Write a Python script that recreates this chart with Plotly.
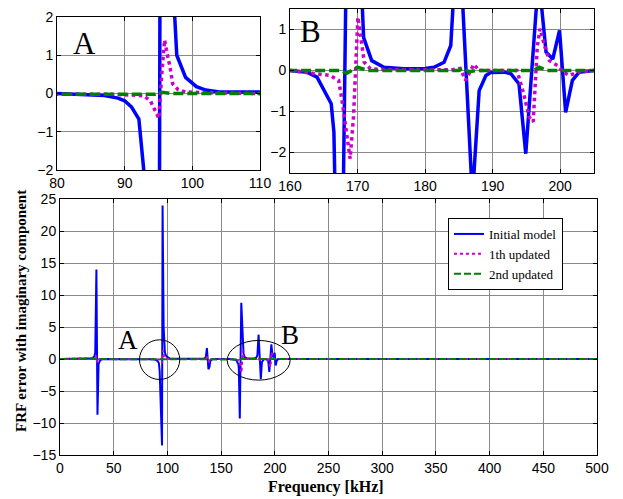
"""FRF error (imaginary component) — main plot with two zoomed insets."""
import plotly.graph_objects as go

# ---- data ----
freq_initial = [0, 20, 28, 30, 32, 32.8, 33.9, 34.9, 35.9, 37.5, 40,
                80, 85, 87, 89, 90, 91, 92.1, 92.8, 95.0, 95.5, 96.5, 97.7, 99, 100.6, 102, 104, 110,
                130, 134, 135.8, 136.8, 138.2, 139.2, 140, 142,
                160, 162.5, 164, 166.1, 166.5, 167.4, 168.8, 170.9, 172.1, 173.9, 176.8, 180, 181.3,
                182.8, 183.8, 184.9, 187, 188, 189, 189.7, 191.7, 192.7, 193.9, 194.9, 196.8, 197.9,
                198.9, 199.9, 200.8, 201.8, 202.8, 205, 220, 500]
err_initial = [0, 0, 0.02, 0.1, 0.4, 1.0, 14.0, -8.7, -0.8, -0.15, 0,
               0, -0.02, -0.05, -0.12, -0.19, -0.35, -0.67, -1.96, -13.5, 24.0, 5.0, 1.0, 0.42, 0.18, 0.09, 0.04, 0.02,
               0, 0.05, 0.3, 1.7, -1.6, -1.2, -0.3, 0,
               0, -0.04, -0.16, -0.81, -1.5, -9.3, 8.8, 0.8, 0.24, 0.08, 0.04, 0.05, 0.08,
               0.2, 0.61, 3.8, -3.1, -0.49, -0.12, -0.05, -0.04, -0.08, -0.33, -2.03, 2.3, 0.45,
               0.28, 0.98, -1.02, -0.24, -0.04, 0, 0, 0]

freq_1th = [0, 30, 33.0, 33.9, 34.5, 35.5, 37,
            80, 88, 91, 92.8, 93.8, 94.4, 95.05, 95.5, 95.9, 96.3, 96.7, 97.1, 97.9, 99, 102, 110,
            134, 136.5, 138.0, 140,
            160, 165.9, 167.2, 167.7, 168.4, 168.9, 169.4, 170.05, 170.4, 171.0, 171.9, 175,
            184, 185.2, 186, 187.2, 188,
            193.6, 194.6, 195.4, 196.0, 196.6, 197.0, 197.6, 198.4, 199.6, 200.4, 201.4, 202.6, 205, 500]
err_1th = [0, 0, 0.1, 0.5, -0.6, -0.1, 0,
           0, -0.02, -0.04, -0.06, -0.19, -0.39, -0.65, 0.54, 1.4, 1.02, 0.7, 0.25, 0.1, 0.04, 0.02, 0,
           0, 0.5, -0.5, 0,
           0, -0.12, -0.24, -0.73, -1.55, -2.15, -1.14, 1.3, 0.89, 0.2, 0.04, 0.02,
           0.02, 0.05, -0.24, 0.15, 0,
           0, -0.57, -1.14, -1.25, 0.57, 1.02, 0.65, 0.24, 0.12, -0.04, -0.12, -0.04, 0, 0]

freq_2nd = [0, 94.5, 95.5, 97, 167.5, 168.4, 170, 171.5, 185, 185.6, 186.5, 187.5, 196, 196.9, 198, 500]
err_2nd = [0, -0.02, 0.03, 0, 0, -0.07, 0.08, 0, 0, 0.05, -0.03, 0, 0, 0.08, 0, 0]

series_names = ["Initial model", "1th updated", "2nd updated"]

COLORS = {"blue": "#0000ff", "magenta": "#cc00cc", "green": "#008000", "grid": "#8a8a8a", "text": "#000000"}
SANS = "Liberation Sans, Arial, sans-serif"
SERIF = "Liberation Serif, Times New Roman, serif"
W, H = 623, 499
OX, OY = 8, 8            # page body margin the figure sits inside
FW, FH = W - OX, H - OY


def _axis(domain, rng, dtick, **kw):
    return dict(domain=domain, range=rng, dtick=dtick, showgrid=True, gridcolor=COLORS["grid"], gridwidth=1,
                zeroline=False, showline=True, linecolor="black", linewidth=1, mirror="ticks",
                ticks="inside", ticklen=4, tickcolor="black", automargin=False,
                ticklabeloverflow="allow",
                tickfont=dict(family=SANS, size=14, color="black"), **kw)


def _px(x0, x1):
    return [(x0 - OX) / FW, (x1 - OX) / FW]


def _py(top, bottom):
    return [1 - (bottom - OY) / FH, 1 - (top - OY) / FH]


fig = go.Figure()
panels = [("x", "y", 3.5, False), ("x2", "y2", 3.5, False), ("x3", "y3", 2, True)]
for xa, ya, lw, legend in panels:
    fig.add_trace(go.Scatter(x=freq_initial, y=err_initial, mode="lines", name=series_names[0],
                             line=dict(color=COLORS["blue"], width=lw), xaxis=xa, yaxis=ya, showlegend=legend))
    fig.add_trace(go.Scatter(x=freq_1th, y=err_1th, mode="lines", name=series_names[1],
                             line=dict(color=COLORS["magenta"], width=lw, dash="dot"),
                             xaxis=xa, yaxis=ya, showlegend=legend))
    fig.add_trace(go.Scatter(x=freq_2nd, y=err_2nd, mode="lines", name=series_names[2],
                             line=dict(color=COLORS["green"], width=lw,
                                       dash="10px,4px" if not legend else "7px,3px"),
                             xaxis=xa, yaxis=ya, showlegend=legend))

# zoomed regions in the main plot
fig.add_shape(type="circle", xref="x3", yref="y3", x0=74, x1=111.5, y0=-3.2, y1=3.0,
              line=dict(color="black", width=1))
fig.add_shape(type="circle", xref="x3", yref="y3", x0=155.7, x1=214.3, y0=-3.3, y1=2.9,
              line=dict(color="black", width=1))

labels = [
    dict(text="A", x=63, y=2.9, xref="x3", yref="y3", size=27),
    dict(text="B", x=214.5, y=3.7, xref="x3", yref="y3", size=27),
    dict(text="A", x=84, y=1.3, xref="x", yref="y", size=31),
    dict(text="B", x=163, y=0.95, xref="x2", yref="y2", size=31),
]
for lb in labels:
    fig.add_annotation(text=lb["text"], x=lb["x"], y=lb["y"], xref=lb["xref"], yref=lb["yref"],
                       showarrow=False, font=dict(family=SERIF, size=lb["size"], color="black"))

fig.add_annotation(text="<b>FRF error with imaginary component</b>", xref="paper", yref="paper",
                   x=(21 - OX) / FW, y=1 - (311 - OY) / FH, xanchor="center", yanchor="middle",
                   textangle=-90, showarrow=False,
                   font=dict(family=SERIF, size=15, color="black"))
fig.add_annotation(text="<b>Frequency [kHz]</b>", xref="paper", yref="paper",
                   x=(326 - OX) / FW, y=1 - (487 - OY) / FH, xanchor="center", yanchor="middle",
                   showarrow=False,
                   font=dict(family=SERIF, size=16, color="black"))

fig.update_layout(
    width=FW, height=FH,
    margin=dict(l=0, r=0, t=0, b=0, autoexpand=False),
    paper_bgcolor="white", plot_bgcolor="white",
    xaxis=_axis(_px(57, 260), [80, 110], 10, anchor="y"),
    yaxis=_axis(_py(17, 170), [-2, 2], 1, anchor="x"),
    xaxis2=_axis(_px(290, 594), [160, 205], 10, anchor="y2"),
    yaxis2=_axis(_py(9, 173), [-2.5, 1.5], 1, anchor="x2"),
    xaxis3=_axis(_px(60, 597), [0, 500], 50, anchor="y3"),
    yaxis3=_axis(_py(199, 455), [-15, 25], 5, anchor="x3"),
    legend=dict(x=(448 - OX) / FW, y=1 - (218 - OY) / FH, xanchor="left", yanchor="top",
                bgcolor="white", bordercolor="black", borderwidth=1,
                font=dict(family=SERIF, size=13, color="black"), tracegroupgap=0),
    showlegend=True,
)

fig.write_html("out.html")
